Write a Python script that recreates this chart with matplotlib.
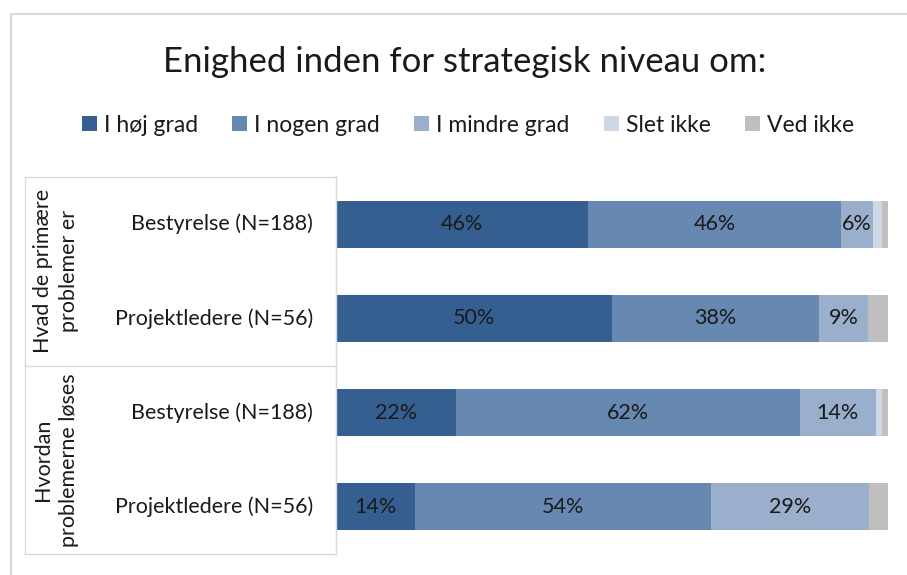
import matplotlib
matplotlib.use("Agg")
import matplotlib.pyplot as plt
from matplotlib.lines import Line2D
import numpy as np

plt.rcParams['font.family'] = ['Lato', 'DejaVu Sans']

title = "Enighed inden for strategisk niveau om:"
series = ["I høj grad", "I nogen grad", "I mindre grad", "Slet ikke", "Ved ikke"]
colors = ["#355F91", "#6788B1", "#9AAFCB", "#CDD7E6", "#BFBFBF"]
categories = ["Bestyrelse (N=188)", "Projektledere (N=56)",
              "Bestyrelse (N=188)", "Projektledere (N=56)"]
groups = ["Hvad de primære\nproblemer er", "Hvordan\nproblemerne løses"]
hoej = [45.7, 50.0, 21.8, 14.3]
nogen = [45.7, 37.5, 62.2, 53.6]
mindre = [5.9, 8.9, 13.8, 28.6]
slet = [1.6, 0.0, 1.1, 0.0]
ved = [1.1, 3.6, 1.1, 3.6]
labels = [["46%", "46%", "6%", "", ""],
          ["50%", "38%", "9%", "", ""],
          ["22%", "62%", "14%", "", ""],
          ["14%", "54%", "29%", "", ""]]

W, H = 907, 575
fig = plt.figure(figsize=(W / 100, H / 100), dpi=100)

def fx(px):
    return px / W

def fy(py):
    return 1 - py / H

ax_l, ax_r, ax_t, ax_b = 336, 888, 177, 554
ax = fig.add_axes([fx(ax_l), fy(ax_b), fx(ax_r - ax_l), (ax_b - ax_t) / H])

data = np.array([hoej, nogen, mindre, slet, ved])
ypos = np.arange(len(categories))
left = np.zeros(len(categories))
for i, (name, col) in enumerate(zip(series, colors)):
    ax.barh(ypos, data[i], left=left, height=0.5, color=col, label=name)
    for j in range(len(categories)):
        if labels[j][i]:
            ax.text(left[j] + data[i][j] / 2, ypos[j], labels[j][i],
                    ha='center', va='center', fontsize=15.5, color='#1a1a1a')
    left += data[i]

ax.set_xlim(0, 100)
ax.set_ylim(len(categories) - 0.5, -0.5)
ax.set_xticks([])
ax.set_yticks([])
for s in ['top', 'right', 'bottom']:
    ax.spines[s].set_visible(False)
ax.spines['left'].set_color('#D9D9D9')
ax.spines['left'].set_linewidth(1)

# category labels
cat_x = 313
for j, c in enumerate(categories):
    ycen = ax_t + (j + 0.5) * (ax_b - ax_t) / len(categories)
    fig.text(fx(cat_x), fy(ycen), c, ha='right', va='center', fontsize=15.5, color='#1a1a1a')

# group labels
mid = (ax_t + ax_b) / 2
grp_centers = [(ax_t + mid) / 2, (mid + ax_b) / 2]
for g, yc in zip(groups, grp_centers):
    fig.text(fx(56), fy(yc), g, ha='center', va='center', rotation=90,
             fontsize=15.5, color='#1a1a1a', linespacing=1.35, multialignment='center')

# table lines
lc = '#D9D9D9'
for py in [ax_t, mid, ax_b]:
    fig.add_artist(Line2D([fx(25), fx(ax_l)], [fy(py), fy(py)], color=lc, lw=1))
fig.add_artist(Line2D([fx(25), fx(25)], [fy(ax_t), fy(ax_b)], color=lc, lw=1))

# outer frame
fig.add_artist(Line2D([fx(11), fx(907)], [fy(14), fy(14)], color='#D9D9D9', lw=1.5))
fig.add_artist(Line2D([fx(11), fx(11)], [fy(14), fy(575)], color='#D9D9D9', lw=1.5))

fig.text(fx(465), fy(62), title, ha='center', va='center', fontsize=25, color='#1a1a1a')

handles, lbls = ax.get_legend_handles_labels()
fig.legend(handles, lbls, loc='center', bbox_to_anchor=(fx(468), fy(125)), ncol=5,
           frameon=False, fontsize=16.5, handlelength=0.65, handleheight=0.65,
           handletextpad=0.3, columnspacing=1.5, labelcolor='#1a1a1a')

fig.savefig("out.png", dpi=100)
